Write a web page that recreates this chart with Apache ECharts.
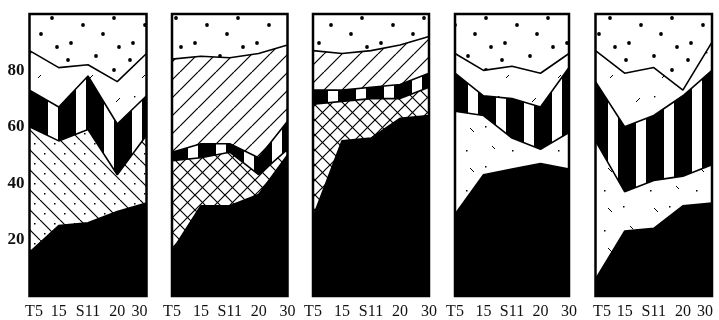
<!DOCTYPE html>
<html><head><meta charset="utf-8">
<script src="https://cdn.jsdelivr.net/npm/echarts@6/dist/echarts.min.js"></script>
<style>html,body{margin:0;padding:0;background:#fff}#c{width:719px;height:320px}</style>
</head><body><div id="c"></div>
<script>
// x categories and y tick labels
const categories = ['T5', '15', 'S11', '20', '30'];
const yTicks = [20, 40, 60, 80];

// Shares (%) of the five stacked components, bottom to top, for each panel
const p1Black  = [15.5, 25, 26, 30, 33];
const p1Cross  = [44.5, 30, 33, 13, 24];
const p1Stripe = [13, 12, 19, 18, 14];
const p1Hatch  = [14, 14, 4, 15, 15];
const p1Dots   = [13, 19, 18, 24, 14];

const p2Black  = [16, 32, 32, 36, 50];
const p2Cross  = [32, 17, 19, 7, 2];
const p2Stripe = [3, 5, 3, 6, 10];
const p2Hatch  = [33, 31, 30.5, 37, 27];
const p2Dots   = [16, 15, 15.5, 14, 11];

const p3Black  = [28, 55, 56, 63, 64];
const p3Cross  = [40, 14, 14, 7, 10];
const p3Stripe = [5, 4, 4, 5, 5];
const p3Hatch  = [14, 13, 13, 14, 13];
const p3Dots   = [13, 14, 13, 11, 8];

const p4Black  = [29, 43, 45, 47, 45];
const p4Cross  = [36.5, 21, 11, 5, 13];
const p4Stripe = [13.5, 7, 14, 15, 23];
const p4Hatch  = [7, 9, 11.5, 12, 5];
const p4Dots   = [14, 20, 18.5, 21, 14];

const p5Black  = [6, 23, 24, 32, 33];
const p5Cross  = [49, 14, 17, 10.5, 13.5];
const p5Stripe = [21, 23, 23, 28.5, 33.5];
const p5Hatch  = [11, 19, 17, 2, 10];
const p5Dots   = [13, 21, 19, 27, 10];

const panels = [
  [p1Black, p1Cross, p1Stripe, p1Hatch, p1Dots],
  [p2Black, p2Cross, p2Stripe, p2Hatch, p2Dots],
  [p3Black, p3Cross, p3Stripe, p3Hatch, p3Dots],
  [p4Black, p4Cross, p4Stripe, p4Hatch, p4Dots],
  [p5Black, p5Cross, p5Stripe, p5Hatch, p5Dots]
];

// ---------- patterns ----------
function mk(w, h, draw) {
  const c = document.createElement('canvas');
  c.width = w; c.height = h;
  const g = c.getContext('2d');
  g.fillStyle = '#fff'; g.fillRect(0, 0, w, h);
  g.strokeStyle = '#000'; g.fillStyle = '#000';
  draw(g, w, h);
  return { image: c, repeat: 'repeat' };
}
function diag(g, w, h, dir) {
  g.beginPath();
  for (let k = -1; k <= 1; k++) {
    if (dir > 0) { g.moveTo(k * w, h); g.lineTo(k * w + w, 0); }
    else { g.moveTo(k * w, 0); g.lineTo(k * w + w, h); }
  }
  g.stroke();
}
const patStripes = mk(28, 4, g => { g.fillRect(2, 0, 18, 4); });
const patDots = mk(62, 52, g => {
  [[6, 8], [34, 4], [52, 18], [21, 25], [41, 34], [9, 43], [57, 47]].forEach(([x, y]) => {
    g.beginPath(); g.arc(x, y, 1.9, 0, 7); g.fill();
  });
});
const patCross = mk(15, 15, (g, w, h) => { g.lineWidth = 1.2; diag(g, w, h, 1); diag(g, w, h, -1); });
const patBack = mk(20, 20, (g, w, h) => {
  g.lineWidth = 1.2; diag(g, w, h, -1);
  g.fillRect(14, 3, 1.5, 1.5); g.fillRect(4, 13, 1.5, 1.5);
});
const patHatch = mk(18, 18, (g, w, h) => { g.lineWidth = 1.2; diag(g, w, h, 1); });
const patSparse = mk(46, 40, g => {
  g.lineWidth = 1;
  g.beginPath(); g.moveTo(10, 8); g.lineTo(14, 12); g.moveTo(32, 26); g.lineTo(35, 29); g.stroke();
  g.fillRect(25, 6, 1.5, 1.5); g.fillRect(6, 30, 1.5, 1.5);
});
const patSparse2 = mk(52, 44, g => {
  g.lineWidth = 1;
  g.beginPath(); g.moveTo(12, 14); g.lineTo(16, 10); g.moveTo(38, 34); g.lineTo(41, 31); g.stroke();
  g.fillRect(30, 8, 1.4, 1.4);
});

const crossPats = [patBack, patCross, patCross, patSparse, patSparse];
const hatchPats = [patSparse2, patHatch, patHatch, patSparse2, patSparse2];

// ---------- layout ----------
const lefts  = [29.5, 172, 313, 455, 595.5];
const widths = [117, 115.5, 116, 114, 116.5];
const TOP = 14, HEIGHT = 286;
const edgePad = [[9, 14], [0, 0], [0, 0], [0, 0], [13, 14]];
const FONT = '"Liberation Serif", "DejaVu Serif", serif';
const XFS = 16;

const grid = [], xAxis = [], yAxis = [], series = [];
panels.forEach((layers, i) => {
  grid.push({ left: lefts[i], top: TOP, width: widths[i], height: HEIGHT,
    show: true, borderColor: '#000', borderWidth: 2.5, backgroundColor: 'transparent', z: 10 });
  const pl = edgePad[i][0], pr = edgePad[i][1];
  xAxis.push({
    type: 'category', gridIndex: i, data: categories, boundaryGap: false,
    axisLine: { show: false }, axisTick: { show: false }, splitLine: { show: false },
    axisLabel: {
      interval: 0, margin: 8, color: '#111', fontFamily: FONT, fontSize: XFS,
      formatter: (v, idx) => idx === 0 ? '{l|' + v + '}' : (idx === categories.length - 1 ? '{r|' + v + '}' : '{m|' + v + '}'),
      rich: {
        l: { fontFamily: FONT, fontSize: XFS, color: '#111', padding: [0, 0, 0, pl] },
        r: { fontFamily: FONT, fontSize: XFS, color: '#111', padding: [0, pr, 0, 0] },
        m: { fontFamily: FONT, fontSize: XFS, color: '#111' }
      }
    }
  });
  yAxis.push({
    type: 'value', gridIndex: i, min: 0, max: 100, interval: 20,
    axisLine: { show: false }, splitLine: { show: false },
    axisTick: { show: i === 0, inside: true, length: 5, lineStyle: { color: '#000', width: 1.5 } },
    axisLabel: {
      show: i === 0, margin: 5, color: '#111', fontFamily: FONT, fontSize: 17, fontWeight: 'bold',
      formatter: v => yTicks.indexOf(v) >= 0 ? String(v) : ''
    }
  });
  const fills = ['#000', crossPats[i], patStripes, hatchPats[i], patDots];
  layers.forEach((arr, j) => {
    series.push({
      type: 'line', xAxisIndex: i, yAxisIndex: i, stack: 'p' + i, data: arr,
      symbol: 'none', silent: true, animation: false,
      lineStyle: { color: '#000', width: 1.6 },
      areaStyle: { color: fills[j], opacity: 1 }
    });
  });
});

const chart = echarts.init(document.getElementById('c'), null, { renderer: 'canvas' });
chart.setOption({ animation: false, backgroundColor: '#fff', grid, xAxis, yAxis, series });
</script>
</body></html>
